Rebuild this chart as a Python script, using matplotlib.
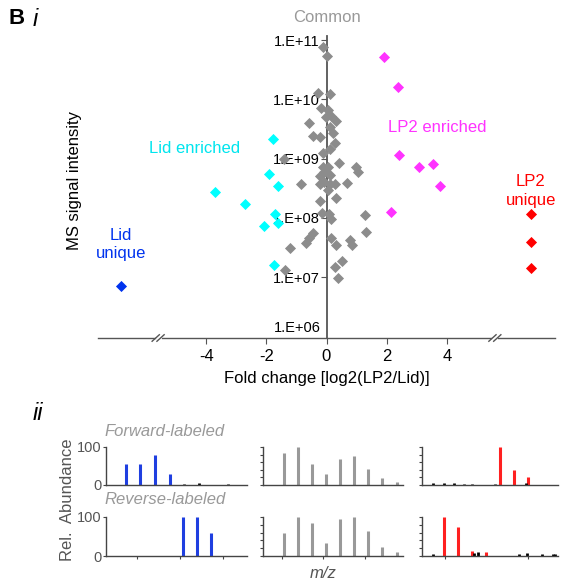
import numpy as np
import matplotlib.pyplot as plt

plt.rcParams['font.family'] = ['Liberation Sans', 'DejaVu Sans']

# ---- panel i data: (log2 fold change, log10 intensity) ----
common_x = [-0.10, 0.01, -0.29, 0.13, -0.18, 0.04, 0.15, -0.03, 0.32, -0.59, 0.10, -0.46, -0.23,
            0.23, 0.27, 0.10, -0.12, -1.40, 0.43, 0.97, 1.04, -0.12, 0.04, -0.07, 0.10, -0.20,
            -0.84, -0.23, -0.07, 0.10, 0.27, 0.68, 0.04, -0.23, 0.32, -0.14, 0.08, 0.16, 1.27,
            -0.46, -0.57, -0.68, 0.16, 0.77, 0.86, 1.32, -1.21, 0.32, 0.52, 0.27, -1.37, 0.38]
common_logy = [10.88, 10.73, 10.11, 10.09, 9.85, 9.82, 9.72, 9.70, 9.64, 9.61, 9.54, 9.38, 9.37,
               9.44, 9.27, 9.17, 9.09, 8.99, 8.93, 8.86, 8.78, 8.86, 8.86, 8.78, 8.72, 8.70,
               8.57, 8.58, 8.60, 8.57, 8.58, 8.59, 8.48, 8.29, 8.33, 8.09, 8.07, 7.99, 8.05,
               7.75, 7.67, 7.57, 7.67, 7.63, 7.54, 7.77, 7.50, 7.54, 7.28, 7.18, 7.13, 6.98]
lid_enr_x = [-1.77, -1.90, -1.62, -3.71, -2.71, -1.70, -1.60, -2.07, -1.73]
lid_enr_logy = [9.34, 8.75, 8.54, 8.44, 8.23, 8.07, 7.92, 7.86, 7.21]
lp2_enr_x = [1.90, 2.39, 2.41, 3.09, 3.54, 3.77, 2.16]
lp2_enr_logy = [10.71, 10.21, 9.06, 8.86, 8.91, 8.54, 8.10]
lid_uni_x = [-6.83]
lid_uni_logy = [6.86]
lp2_uni_x = [6.8, 6.8, 6.8]
lp2_uni_logy = [8.06, 7.59, 7.15]

# ---- panel ii data: peak positions (fraction of m/z window) and heights ----
fwd_lid_pos = [0.14, 0.244, 0.346, 0.452]
fwd_lid_h = [55, 55, 80, 29]
fwd_lid_noise_pos = [0.55, 0.66, 0.865]
fwd_lid_noise_h = [3, 4, 3]
rev_lid_pos = [0.544, 0.645, 0.746]
rev_lid_h = [100, 100, 60]

fwd_com_pos = [0.148, 0.248, 0.35, 0.45, 0.552, 0.65, 0.752, 0.852, 0.955]
fwd_com_h = [85, 100, 54, 29, 68, 77, 42, 18, 7]
rev_com_h = [59, 100, 84, 33, 96, 100, 63, 23, 11]

fwd_lp2_pos = [0.574, 0.676, 0.777]
fwd_lp2_h = [100, 40, 20]
fwd_lp2_noise_pos = [0.083, 0.162, 0.238, 0.311, 0.37, 0.537, 0.762]
fwd_lp2_noise_h = [5, 5, 6, 3, 2, 3, 5]
rev_lp2_pos = [0.162, 0.262, 0.365, 0.468]
rev_lp2_h = [100, 75, 14, 9]
rev_lp2_noise_pos = [0.083, 0.385, 0.414, 0.715, 0.774, 0.88, 0.966, 0.98]
rev_lp2_noise_h = [5, 8, 9, 5, 7, 5, 6, 6]

gray = '#8c8c8c'
axcol = '#555555'

fig = plt.figure(figsize=(5.63, 5.86), dpi=100)

# ---------------- panel i ----------------
ax = fig.add_axes([98 / 563, 1 - 338 / 586, 457 / 563, 302 / 586])
ax.set_yscale('log')
ax.set_xlim(-7.6, 7.6)
ax.set_ylim(10 ** 5.975, 10 ** 11.07)

def pts(xs, ly):
    return np.array(xs), 10 ** np.array(ly)

ms = 32
ax.scatter(*pts(common_x, common_logy), marker='D', s=ms, color=gray, lw=0, zorder=3)
ax.scatter(*pts(lid_enr_x, lid_enr_logy), marker='D', s=ms, color='#00ffff', lw=0, zorder=3)
ax.scatter(*pts(lp2_enr_x, lp2_enr_logy), marker='D', s=ms, color='#ff33ff', lw=0, zorder=3)
ax.scatter(*pts(lid_uni_x, lid_uni_logy), marker='D', s=ms, color='#0033ee', lw=0, zorder=3)
ax.scatter(*pts(lp2_uni_x, lp2_uni_logy), marker='D', s=ms, color='#ff0000', lw=0, zorder=3)

for s in ['top', 'right']:
    ax.spines[s].set_visible(False)
ax.spines['left'].set_position(('data', 0))
ax.spines['left'].set_color(axcol)
ax.spines['left'].set_linewidth(1.3)
ax.spines['bottom'].set_color(axcol)
ax.spines['bottom'].set_linewidth(1.0)

ax.set_yticks([1e7, 1e8, 1e9, 1e10, 1e11])
ax.set_yticklabels(['1.E+07', '1.E+08', '1.E+09', '1.E+10', '1.E+11'])
ax.yaxis.set_minor_locator(plt.NullLocator())
ax.tick_params(axis='y', length=4, color=axcol, labelsize=10.5, pad=1)
ax.text(-0.2, 10 ** 6.15, '1.E+06', ha='right', va='center', fontsize=10.5)
ax.set_xticks([-4, -2, 0, 2, 4])
ax.set_xticklabels(['-4', '-2', '0', '2', '4'])
ax.tick_params(axis='x', length=4, color=axcol, labelsize=12, pad=4)
ax.set_xlabel('Fold change [log2(LP2/Lid)]', fontsize=12, labelpad=5)

# axis break marks
for bx in [-5.6, 5.6]:
    for dx in [-0.08, 0.08]:
        ax.plot([bx + dx - 0.12, bx + dx + 0.12], [10 ** 5.92, 10 ** 6.03], color=axcol,
                lw=1.0, clip_on=False, zorder=4)
    ax.plot([bx - 0.05, bx + 0.05], [10 ** 5.975, 10 ** 5.975], color='white', lw=2,
            clip_on=False, zorder=3.5)

ax.text(0, 10 ** 11.38, 'Common', color='#999999', ha='center', va='center', fontsize=12)
ax.text(-4.4, 10 ** 9.18, 'Lid enriched', color='#00e5ee', ha='center', va='center', fontsize=12)
ax.text(3.7, 10 ** 9.53, 'LP2 enriched', color='#ff33ff', ha='center', va='center', fontsize=12)
ax.text(6.8, 10 ** 8.45, 'LP2\nunique', color='#ff0000', ha='center', va='center', fontsize=12,
        linespacing=1.3)
ax.text(-6.83, 10 ** 7.55, 'Lid\nunique', color='#0033ee', ha='center', va='center', fontsize=12,
        linespacing=1.3)

fig.text(75 / 563, 1 - 180 / 586, 'MS signal intensity', rotation=90, ha='center', va='center',
         fontsize=12)
fig.text(8 / 563, 1 - 18 / 586, 'B', fontsize=16, fontweight='bold', ha='left', va='center')
fig.text(33 / 563, 1 - 20 / 586, 'i', fontsize=17, style='italic', ha='left', va='center')

# ---------------- panel ii ----------------
fig.text(33 / 563, 1 - 414 / 586, 'ii', fontsize=17, style='italic', ha='left', va='center')
fig.text(165 / 563, 1 - 432 / 586, 'Forward-labeled', fontsize=12, style='italic', color='#999999',
         ha='center', va='center')
fig.text(165 / 563, 1 - 499 / 586, 'Reverse-labeled', fontsize=12, style='italic', color='#999999',
         ha='center', va='center')
fig.text(68 / 563, 1 - 500 / 586, 'Rel.  Abundance', rotation=90, fontsize=12, color='#555555',
         ha='center', va='center')
fig.text(323 / 563, 1 - 573 / 586, 'm/z', fontsize=12, style='italic', color='#555555',
         ha='center', va='center')

cols = [(106, 141), (263, 140), (422, 136)]
rows = [(447, 485), (517, 556)]

def spec_ax(ci, ri):
    l, w = cols[ci]
    t, b = rows[ri]
    a = fig.add_axes([l / 563, 1 - b / 586, w / 563, (b - t) / 586])
    a.set_xlim(0, 1)
    a.set_ylim(0, 100)
    for s in ['top', 'right']:
        a.spines[s].set_visible(False)
    for s in ['left', 'bottom']:
        a.spines[s].set_color('#444444')
        a.spines[s].set_linewidth(1.0)
    a.tick_params(length=2.5, color='#444444', labelsize=10.5, labelcolor='#555555', pad=1)
    if ci == 0:
        a.set_yticks([0, 100])
        a.set_yticklabels(['0', '100'])
    else:
        a.set_yticks([0, 20, 40, 60, 80, 100])
        a.set_yticklabels([])
    a.set_xticks([])
    return a

def peaks(a, pos, h, color, lw=2.2):
    a.vlines(pos, 0, h, color=color, lw=lw)

def bottom_ticks(a, pos):
    a.set_xticks(pos)
    a.set_xticklabels([])

a = spec_ax(0, 0)
peaks(a, fwd_lid_pos, fwd_lid_h, '#1f3fe0')
peaks(a, fwd_lid_noise_pos, fwd_lid_noise_h, 'black', 2)
a = spec_ax(0, 1)
peaks(a, rev_lid_pos, rev_lid_h, '#1f3fe0')
bottom_ticks(a, [0.22, 0.525, 0.83])

a = spec_ax(1, 0)
peaks(a, fwd_com_pos, fwd_com_h, '#999999')
a = spec_ax(1, 1)
peaks(a, fwd_com_pos, rev_com_h, '#999999')
bottom_ticks(a, [0.136, 0.43, 0.73])

a = spec_ax(2, 0)
peaks(a, fwd_lp2_pos, fwd_lp2_h, '#ff2020')
peaks(a, fwd_lp2_noise_pos, fwd_lp2_noise_h, 'black', 2)
a = spec_ax(2, 1)
peaks(a, rev_lp2_pos, rev_lp2_h, '#ff2020')
peaks(a, rev_lp2_noise_pos, rev_lp2_noise_h, 'black', 2)
bottom_ticks(a, [0.17, 0.78])

fig.savefig('out.png', dpi=100)
